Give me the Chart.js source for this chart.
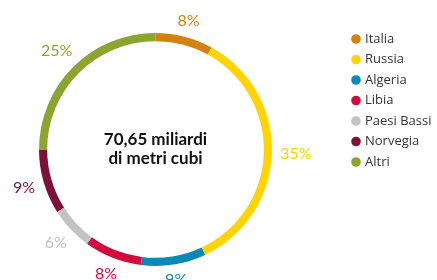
<!DOCTYPE html>
<html>
<head>
<meta charset="utf-8">
<script src="https://cdn.jsdelivr.net/npm/chart.js@4"></script>
<style>
  html, body { margin: 0; padding: 0; background: #fff; }
  #wrap { position: relative; width: 437px; height: 280px; }
</style>
</head>
<body>
<div id="wrap"><canvas id="gasChart" width="437" height="280"></canvas></div>
<script>
// Data
const countries = ['Italia', 'Russia', 'Algeria', 'Libia', 'Paesi Bassi', 'Norvegia', 'Altri'];
const shares = [8, 35, 9, 8, 6, 9, 25];
const colors = ['#d4820f', '#ffd400', '#0a89b5', '#d20a3f', '#c3c3c3', '#7e1236', '#8ba530'];
const centerLines = ['70,65 miliardi', 'di metri cubi'];

const FONT = 'Lato, "Open Sans", sans-serif';

// percent labels outside the ring + centre text + legend
const extrasPlugin = {
    id: 'extras',
    afterDraw(chart) {
        const ctx = chart.ctx;
        const arcs = chart.getDatasetMeta(0).data;
        ctx.save();

        // percentage labels
        ctx.font = '16px ' + FONT;
        ctx.textAlign = 'center';
        ctx.textBaseline = 'middle';
        arcs.forEach((arc, i) => {
            const mid = (arc.startAngle + arc.endAngle) / 2;
            const dx = Math.cos(mid), dy = Math.sin(mid);
            const txt = shares[i] + '%';
            const w = ctx.measureText(txt).width;
            const r = arc.outerRadius + 8 + Math.abs(dx) * w / 2 + Math.abs(dy) * 6;
            ctx.fillStyle = colors[i];
            ctx.fillText(txt, arc.x + dx * r, arc.y + dy * r);
        });

        // centre text
        const c = arcs[0];
        ctx.fillStyle = '#111';
        ctx.font = 'bold 17px ' + FONT;
        ctx.fillText(centerLines[0], c.x, c.y - 10);
        ctx.fillText(centerLines[1], c.x, c.y + 9);

        // legend
        ctx.font = '13px "Open Sans", sans-serif';
        ctx.textAlign = 'left';
        countries.forEach((name, i) => {
            const y = 39 + i * 20.5;
            ctx.fillStyle = colors[i];
            ctx.beginPath();
            ctx.arc(356, y, 4.8, 0, Math.PI * 2);
            ctx.fill();
            ctx.fillStyle = '#333';
            ctx.fillText(name, 365, y);
        });
        ctx.restore();
    }
};

const gasChart = new Chart(document.getElementById('gasChart').getContext('2d'), {
    type: 'doughnut',
    data: {
        labels: countries,
        datasets: [{
            data: shares,
            backgroundColor: colors,
            borderWidth: 0
        }]
    },
    options: {
        responsive: false,
        animation: false,
        cutout: '93%',
        layout: {
            padding: { top: 33, bottom: 14, left: 39, right: 165 }
        },
        plugins: {
            legend: { display: false },
            tooltip: { enabled: false }
        }
    },
    plugins: [extrasPlugin]
});
</script>
</body>
</html>
